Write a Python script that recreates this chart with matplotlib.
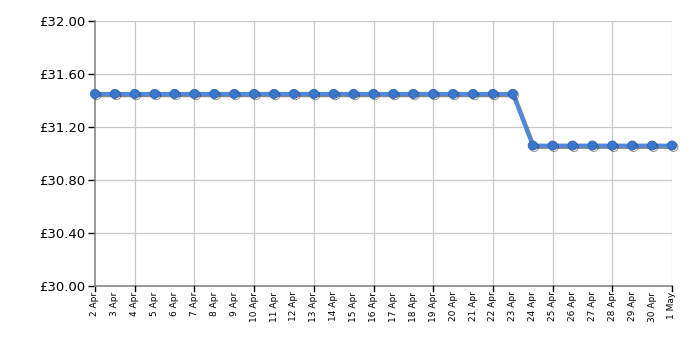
import matplotlib
matplotlib.use("Agg")
import matplotlib.pyplot as plt
import matplotlib.patheffects as pe

dates = ["2 Apr", "3 Apr", "4 Apr", "5 Apr", "6 Apr", "7 Apr", "8 Apr", "9 Apr",
         "10 Apr", "11 Apr", "12 Apr", "13 Apr", "14 Apr", "15 Apr", "16 Apr",
         "17 Apr", "18 Apr", "19 Apr", "20 Apr", "21 Apr", "22 Apr", "23 Apr",
         "24 Apr", "25 Apr", "26 Apr", "27 Apr", "28 Apr", "29 Apr", "30 Apr", "1 May"]
prices = [31.45] * 22 + [31.06] * 8
grid_dates = ["4 Apr", "7 Apr", "10 Apr", "13 Apr", "16 Apr", "19 Apr",
              "22 Apr", "25 Apr", "28 Apr", "1 May"]
y_ticks = [30.0, 30.4, 30.8, 31.2, 31.6, 32.0]

fig = plt.figure(figsize=(7, 3.5), dpi=100)
ax = fig.add_axes([95 / 700, 64 / 350, 577 / 700, 265 / 350])

x = list(range(len(dates)))
shadow = [pe.SimpleLineShadow(offset=(1, -1), shadow_color="#222222", alpha=0.55), pe.Normal()]
ax.plot(x, prices, color="#5088dc", lw=2.8, marker="o", ms=6.5,
        mfc="#3a78d0", mec="#2a5fb0", mew=0.6, path_effects=shadow, zorder=3, clip_on=False)

ax.set_xlim(0, len(dates) - 1)
ax.set_ylim(30, 32)

# vertical grid only at every third day
for d in grid_dates:
    ax.axvline(dates.index(d), color="#c8c8c8", lw=0.9, zorder=1)
for v in y_ticks[1:]:
    ax.axhline(v, color="#c8c8c8", lw=0.9, zorder=1)

ax.set_xticks(x)
ax.set_xticklabels(dates, rotation=90, fontsize=6.5)
ax.tick_params(axis="x", length=0, pad=4)
ax.set_yticks(y_ticks)
ax.set_yticklabels(["£%.2f" % v for v in y_ticks], fontsize=9.5)
ax.tick_params(axis="y", length=5, width=1, color="black", pad=2)

# major ticks on x at grid positions
for d in grid_dates:
    ax.plot([dates.index(d)] * 2, [30, 30 - 0.035], color="black", lw=1, clip_on=False, zorder=4)
ax.plot([0, 0], [30, 30 - 0.035], color="black", lw=1, clip_on=False)

for s in ["top", "right"]:
    ax.spines[s].set_visible(False)
for s in ["left", "bottom"]:
    ax.spines[s].set_color("#888888")
    ax.spines[s].set_linewidth(1.2)

fig.savefig("out.png", dpi=100)
